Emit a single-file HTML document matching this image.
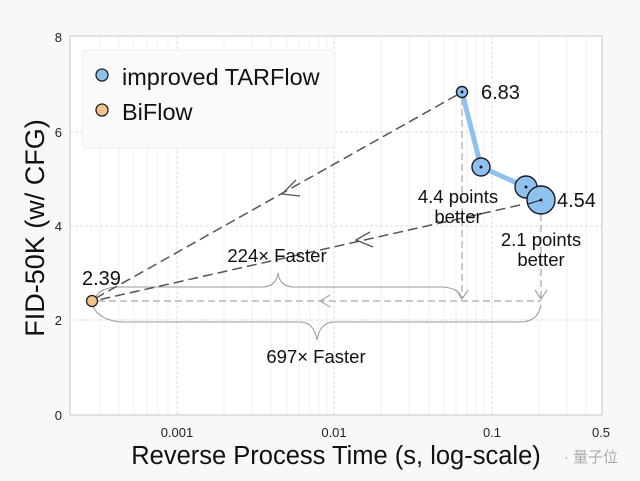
<!DOCTYPE html>
<html><head><meta charset="utf-8"><style>
html,body{margin:0;padding:0;background:#f8f8f9;}
svg{display:block;font-family:"Liberation Sans",Arial,sans-serif;}
</style></head><body>
<svg width="640" height="481" viewBox="0 0 640 481" xmlns="http://www.w3.org/2000/svg">
<rect x="0" y="0" width="640" height="481" fill="#f8f8f9"/>
<rect x="70" y="36" width="532" height="379" fill="#ffffff"/>
<g stroke="#ececf0" stroke-width="0.8">
<line x1="100" y1="36" x2="100" y2="415"/><line x1="119" y1="36" x2="119" y2="415"/><line x1="134" y1="36" x2="134" y2="415"/><line x1="147" y1="36" x2="147" y2="415"/><line x1="158" y1="36" x2="158" y2="415"/><line x1="168" y1="36" x2="168" y2="415"/>
<line x1="224" y1="36" x2="224" y2="415"/><line x1="252" y1="36" x2="252" y2="415"/><line x1="271" y1="36" x2="271" y2="415"/><line x1="287" y1="36" x2="287" y2="415"/><line x1="299" y1="36" x2="299" y2="415"/><line x1="310" y1="36" x2="310" y2="415"/><line x1="319" y1="36" x2="319" y2="415"/><line x1="327" y1="36" x2="327" y2="415"/>
<line x1="381" y1="36" x2="381" y2="415"/><line x1="409" y1="36" x2="409" y2="415"/><line x1="429" y1="36" x2="429" y2="415"/><line x1="444" y1="36" x2="444" y2="415"/><line x1="456" y1="36" x2="456" y2="415"/><line x1="467" y1="36" x2="467" y2="415"/><line x1="476" y1="36" x2="476" y2="415"/><line x1="484" y1="36" x2="484" y2="415"/>
<line x1="539" y1="36" x2="539" y2="415"/><line x1="567" y1="36" x2="567" y2="415"/><line x1="586" y1="36" x2="586" y2="415"/>
</g>
<g stroke="#dcdce2" stroke-width="1" stroke-dasharray="3,2">
<line x1="177" y1="36" x2="177" y2="415"/><line x1="334" y1="36" x2="334" y2="415"/><line x1="492" y1="36" x2="492" y2="415"/>
<line x1="70" y1="132" x2="602" y2="132"/><line x1="70" y1="226" x2="602" y2="226"/><line x1="70" y1="320" x2="602" y2="320"/>
</g>
<rect x="70" y="36" width="532" height="379" fill="none" stroke="#cfcfd6" stroke-width="1.2"/>
<rect x="82" y="50" width="253" height="98" rx="4" fill="#fafafb" stroke="#ececf0"/>
<circle cx="102" cy="75" r="6" fill="#8fc1ee" stroke="#222" stroke-width="1.3"/>
<text x="122" y="85" font-size="23.5" fill="#111">improved TARFlow</text>
<circle cx="102" cy="110" r="6" fill="#f2c48c" stroke="#222" stroke-width="1.3"/>
<text x="122" y="120" font-size="23.5" fill="#111">BiFlow</text>
<g fill="none" stroke="#9a9a9a" stroke-width="1">
<path d="M95,298 Q100,287 120,287 L262,287 Q276,287 278,273 Q280,287 294,287 L440,287 Q458,287 462,298"/>
<path d="M92,305 Q100,322 125,322 L300,322 Q314,322 317,340 Q320,322 334,322 L520,322 Q538,322 541,305"/>
</g>
<g fill="none" stroke="#a8a8a8" stroke-width="1.2" stroke-dasharray="7,4">
<line x1="98" y1="301" x2="541" y2="301"/>
<line x1="462" y1="98" x2="462" y2="298"/>
<line x1="541" y1="214" x2="541" y2="298"/>
</g>
<g fill="none" stroke="#a8a8a8" stroke-width="1.2">
<path d="M456,290 L462,299 L468,290"/><path d="M535,290 L541,299 L547,290"/><path d="M330,295 L320,301 L330,307"/>
</g>
<g fill="none" stroke="#555" stroke-width="1.5" stroke-dasharray="10,5">
<line x1="457" y1="95" x2="96" y2="298"/>
<line x1="520" y1="205" x2="98" y2="300"/>
</g>
<g fill="none" stroke="#555" stroke-width="1.3">
<path d="M296,180 L282,194 L300,196"/><path d="M370,232 L356,240 L373,247"/>
</g>
<polyline points="462,92 481,167 526,187 541,200" fill="none" stroke="#8fc1ee" stroke-width="5" stroke-linejoin="round"/>
<g fill="#8fc1ee" stroke="#1a1a2a" stroke-width="1.4">
<circle cx="462" cy="92" r="5.5"/><circle cx="481" cy="167" r="9"/><circle cx="526" cy="187" r="11"/><circle cx="541" cy="200" r="14"/>
</g>
<line x1="541" y1="200" x2="528" y2="204" stroke="#1a1a2a" stroke-width="1"/>
<g fill="#1a1a2a"><circle cx="462" cy="92" r="1.5"/><circle cx="481" cy="167" r="1.5"/><circle cx="526" cy="187" r="1.5"/><circle cx="541" cy="200" r="1.5"/></g>
<circle cx="92" cy="301" r="5.5" fill="#f2c48c" stroke="#222" stroke-width="1.3"/>
<g font-size="20" fill="#111">
<text x="481" y="99">6.83</text>
<text x="557" y="207">4.54</text>
<text x="82" y="285">2.39</text>
</g>
<g font-size="18.5" fill="#111" text-anchor="middle">
<text x="458" y="203">4.4 points</text><text x="458" y="223">better</text>
<text x="541" y="246">2.1 points</text><text x="541" y="266">better</text>
<text x="277" y="262">224× Faster</text>
<text x="316" y="363">697× Faster</text>
</g>
<g font-size="13" fill="#222">
<text x="62" y="42" text-anchor="end">8</text>
<text x="62" y="137" text-anchor="end">6</text>
<text x="62" y="231" text-anchor="end">4</text>
<text x="62" y="325" text-anchor="end">2</text>
<text x="62" y="420" text-anchor="end">0</text>
<text x="177" y="437" text-anchor="middle">0.001</text>
<text x="334" y="437" text-anchor="middle">0.01</text>
<text x="492" y="437" text-anchor="middle">0.1</text>
<text x="601" y="437" text-anchor="middle">0.5</text>
</g>
<text x="336" y="464" font-size="25.5" fill="#111" text-anchor="middle">Reverse Process Time (s, log-scale)</text>
<text transform="translate(44,228) rotate(-90)" font-size="27" fill="#111" text-anchor="middle">FID-50K (w/ CFG)</text>
<text x="618" y="462" font-size="15" fill="#aaa" text-anchor="end" font-family="'Liberation Sans','Noto Sans CJK SC',sans-serif">· 量子位</text>
</svg>
</body></html>
